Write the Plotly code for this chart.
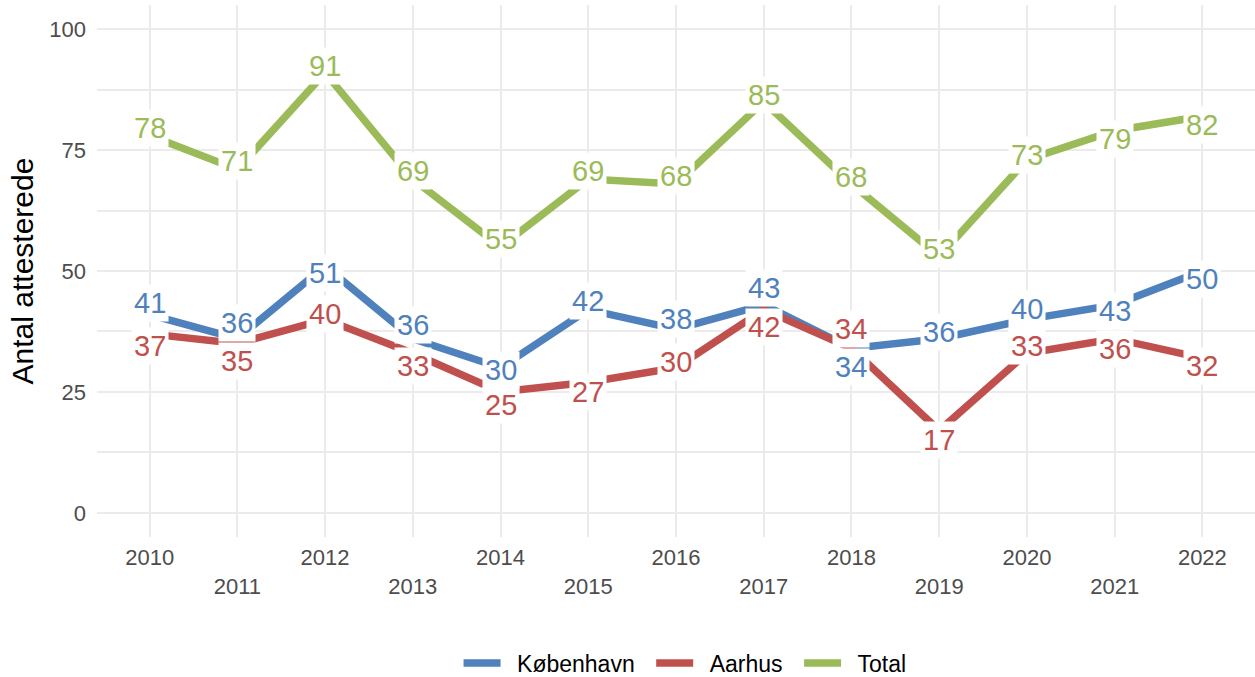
import plotly.graph_objects as go

years = list(range(2010, 2023))
kbh = [41, 36, 51, 36, 30, 42, 38, 43, 34, 36, 40, 43, 50]
aarhus = [37, 35, 40, 33, 25, 27, 30, 42, 34, 17, 33, 36, 32]
total = [78, 71, 91, 69, 55, 69, 68, 85, 68, 53, 73, 79, 82]
series_names = ["København", "Aarhus", "Total"]
y_tickvals = [0, 25, 50, 75, 100]
x_ticktext = [str(y) if y % 2 == 0 else "<br>" + str(y) for y in years]

colors = ["#4F81BD", "#C0504D", "#9BBB59"]
# label offsets in pixels (positive = below the point), styling only
offs = {
    "København": [-12, -16, 7, -14, 2, -9, -10, -17, 19, -7, -10, 6, 8],
    "Aarhus": [12, 17, -5, 13, 13, 10, -6, 17, -19, 9, -7, 10, 8],
    "Total": [-8, -8, -7, -8, -8, -8, -8, -7, -7, -7, -5, 8, 9],
}

FONT = "Liberation Sans, Arial, sans-serif"
PAD = "\u2002"
fig = go.Figure()
annotations = []
for name, vals, col in zip(series_names, [kbh, aarhus, total], colors):
    fig.add_trace(go.Scatter(x=years, y=vals, mode="lines", name=PAD + name + PAD,
                             line=dict(color=col, width=7.5)))
    for x, v, o in zip(years, vals, offs[name]):
        annotations.append(dict(x=x, y=v, text=str(v), showarrow=False,
                                yshift=-o, xanchor="center", yanchor="middle",
                                font=dict(family=FONT, size=29, color=col),
                                bgcolor="white", borderpad=2))

fig.update_layout(
    width=1255, height=677,
    margin=dict(l=97, r=0, t=5, b=140, autoexpand=False),
    plot_bgcolor="white", paper_bgcolor="white",
    font=dict(family=FONT),
    annotations=annotations,
    showlegend=True,
    legend=dict(orientation="h", x=0.513, xanchor="center", y=-0.237, yanchor="middle",
                font=dict(family=FONT, size=23, color="black"), traceorder="normal",
                itemwidth=37),
    xaxis=dict(range=[2009.4, 2022.6], tickvals=years, ticktext=x_ticktext, automargin=False,
               showgrid=True, gridcolor="#EBEBEB", gridwidth=2, zeroline=False,
               showline=False, ticks="", tickfont=dict(family=FONT, size=22, color="#4D4D4D"),
               ticklabelstandoff=5),
    yaxis=dict(range=[-5, 105], tickvals=y_tickvals, showgrid=True, gridcolor="#EBEBEB",
               automargin=False,
               gridwidth=2, zeroline=False, showline=False, ticks="",
               tickfont=dict(family=FONT, size=22, color="#4D4D4D"),
               ticklabelstandoff=10,
               minor=dict(tickvals=[12.5, 37.5, 62.5, 87.5], showgrid=True,
                          gridcolor="#EBEBEB", gridwidth=1.5),
               title=dict(text="Antal attesterede", font=dict(family=FONT, size=30, color="black"),
                          standoff=6)),
)
fig.write_html("out.html", config={"displayModeBar": False},
               post_script="document.body.style.margin='0';")
